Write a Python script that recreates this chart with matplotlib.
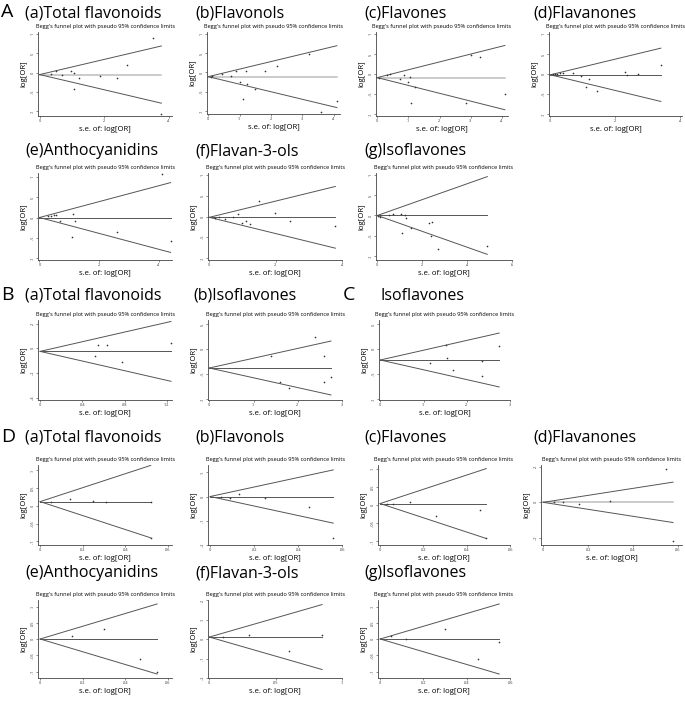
import matplotlib
matplotlib.use("Agg")
import matplotlib.pyplot as plt
import numpy as np

W, H = 685, 702

# -----------------------
# Data
# -----------------------

# A: (a) Total flavonoids
a_tot_se = [.035, .05, .068, .098, .105, .122, .105, .188, .241, .272, .352, .377]
a_tot_lor = [-.03, .03, -.07, .03, 0.0, -.14, -.43, -.08, -.14, .20, .90, -1.07]
a_tot_theta = -0.05

# A: (b) Flavonols
a_fol_se = [.008, .012, .043, .072, .09, .12, .18, .22, .32, .10, .124, .15, .11, .36, .41]
a_fol_lor = [-.11, -.10, -.04, -.09, .03, .04, .03, .17, .48, -.24, -.30, -.43, -.68, -1.02, -.74]
a_fol_theta = -0.11

# A: (c) Flavones
a_fon_se = [.005, .03, .04, .072, .087, .10, .105, .12, .107, .30, .33, .285, .41]
a_fon_lor = [-.09, -.03, -.01, -.13, -.03, -.21, -.07, -.32, -.73, .47, .43, -.73, -.51]
a_fon_theta = -0.09

# A: (d) Flavanones
a_fan_se = [.008, .015, .022, .03, .04, .07, .094, .118, .11, .145, .23, .235, .27, .34]
a_fan_lor = [0, .01, .01, .02, .02, .03, -.06, -.12, -.33, -.42, .04, -.03, -.01, .23]
a_fan_theta = -0.02

# A: (e) Anthocyanidins
a_ant_se = [.03, .04, .048, .055, .113, .07, .12, .108, .26, .41, .44]
a_ant_lor = [.03, .04, .06, .07, .09, -.09, -.09, -.47, -.36, 1.08, -.57]
a_ant_theta = 0.0

# A: (f) Flavan-3-ols
a_f3o_se = [.017, .03, .046, .07, .085, .10, .11, .124, .15, .197, .244, .38]
a_f3o_lor = [-.03, -.02, -.06, -.02, .07, -.15, -.10, -.17, .37, .09, -.10, -.22]
a_f3o_theta = -0.02

# A: (g) Isoflavones
a_iso_se = [.005, .01, .05, .07, .105, .124, .127, .11, .15, .23, .245, .237, .27, .49]
a_iso_lor = [-.02, -.03, 0, .03, .04, 0, -.07, -.43, -.32, -.19, -.17, -.5, -.82, -.75]
a_iso_theta = 0.0

# B: (a) Total flavonoids
b_tot_se = [.052, .055, .063, .078, .124]
b_tot_lor = [-.066, .03, .026, -.11, .04]
b_tot_theta = -0.025

# B: (b) Isoflavones
b_iso_se = [.14, .24, .26, .16, .26, .275, .18]
b_iso_lor = [-.13, .24, -.13, -.65, -.65, -.55, -.78]
b_iso_theta = -0.38

# C: Isoflavones
c_iso_se = [.151, .155, .116, .168, .236, .235, .275]
c_iso_lor = [.075, -.17, -.27, -.42, -.23, -.53, .06]
c_iso_theta = -0.22

# D: (a) Total flavonoids
d_tot_se = [.005, .014, .025, .031, .052, .052]
d_tot_lor = [.012, .019, .013, .012, .011, -.09]
d_tot_theta = 0.012

# D: (b) Flavonols
d_fol_se = [.005, .009, .013, .025, .045, .056]
d_fol_lor = [0, -.008, .012, -.008, -.044, -.173]
d_fol_theta = 0.0

# D: (c) Flavones
d_fon_se = [.003, .006, .014, .026, .046, .049]
d_fon_lor = [.004, .004, .007, -.031, -.015, -.09]
d_fon_theta = 0.004

# D: (d) Flavanones
d_fan_se = [.005, .009, .016, .030, .055, .058]
d_fan_lor = [0, .004, -.01, .006, .186, -.22]
d_fan_theta = 0.0

# D: (e) Anthocyanidins
d_ant_se = [.015, .03, .047, .055]
d_ant_lor = [.01, .03, -.06, -.1]
d_ant_theta = 0.0

# D: (f) Flavan-3-ols
d_f3o_se = [.01, .03, .06, .085]
d_f3o_lor = [.01, .02, -.06, .02]
d_f3o_theta = 0.01

# D: (g) Isoflavones
d_iso_se = [.005, .012, .03, .045, .055]
d_iso_lor = [.01, 0, .03, -.06, -.01]
d_iso_theta = 0.0


# -----------------------
# Layout (pixels: left, top, right, bottom)
# -----------------------

def fmt(v):
    s = f"{v:g}"
    s = s.replace("0.", ".")
    return s


GREY = "#bdbdbd"
DARK = "#555555"

panels = [
    # se, lor, theta, box, xticks, yticks, xlim, ylim, title, title xy, pooled colour
    (a_tot_se, a_tot_lor, a_tot_theta, (38, 32, 172, 116), [0, .2, .4], [-1, -.5, 0, .5, 1],
     (-.005, .41), (-1.12, 1.05), "(a)Total flavonoids", (25, 13), GREY),
    (a_fol_se, a_fol_lor, a_fol_theta, (207, 32, 340, 114), [0, .1, .2, .3, .4], [-1, -.5, 0, .5, 1],
     (-.004, .42), (-1.08, 1.05), "(b)Flavonols", (195, 13), GREY),
    (a_fon_se, a_fon_lor, a_fon_theta, (376, 32, 508, 116), [0, .1, .2, .3, .4], [-1, -.5, 0, .5, 1],
     (-.004, .42), (-1.05, 1.05), "(c)Flavones", (364, 13), GREY),
    (a_fan_se, a_fan_lor, a_fan_theta, (549, 32, 682, 116), [0, .2, .4], [-1, -.5, 0, .5, 1],
     (-.004, .405), (-1.05, 1.05), "(d)Flavanones", (533, 13), DARK),
    (a_ant_se, a_ant_lor, a_ant_theta, (38, 173, 172, 260), [0, .2, .4], [-1, -.5, 0, .5, 1],
     (-.005, .445), (-1.05, 1.1), "(e)Anthocyanidins", (25, 151), DARK),
    (a_f3o_se, a_f3o_lor, a_f3o_theta, (208, 173, 342, 260), [0, .2, .4], [-1, -.5, 0, .5, 1],
     (-.004, .40), (-1.05, 1.05), "(f)Flavan-3-ols", (195, 151), DARK),
    (a_iso_se, a_iso_lor, a_iso_theta, (376, 173, 512, 260), [0, .2, .4, .6], [-1, -.5, 0, .5, 1],
     (-.006, .6), (-1.1, 1.05), "(g)Isoflavones", (364, 151), DARK),
    (b_tot_se, b_tot_lor, b_tot_theta, (38, 320, 172, 400), [0, .04, .08, .12], [-.4, -.2, 0, .2],
     (-.002, .125), (-.42, .23), "(a)Total flavonoids", (25, 296), DARK),
    (b_iso_se, b_iso_lor, b_iso_theta, (208, 320, 342, 400), [0, .1, .2, .3], [-1, -.5, 0, .5],
     (-.003, .30), (-1.02, .58), "(b)Isoflavones", (193, 296), DARK),
    (c_iso_se, c_iso_lor, c_iso_theta, (379, 320, 510, 400), [0, .1, .2, .3], [-1, -.5, 0, .5],
     (-.003, .29), (-1.02, .58), "Isoflavones", (380, 296), DARK),
    (d_tot_se, d_tot_lor, d_tot_theta, (38, 465, 172, 545), [0, .02, .04, .06], [-.1, -.05, 0, .05, .1],
     (-.001, .062), (-.11, .115), "(a)Total flavonoids", (25, 438), DARK),
    (d_fol_se, d_fol_lor, d_fol_theta, (208, 465, 342, 545), [0, .02, .04, .06], [-.2, -.1, 0, .1],
     (-.001, .06), (-.2, .13), "(b)Flavonols", (195, 438), DARK),
    (d_fon_se, d_fon_lor, d_fon_theta, (378, 465, 510, 545), [0, .02, .04, .06], [-.1, -.05, 0, .05, .1],
     (-.001, .058), (-.11, .11), "(c)Flavones", (364, 438), DARK),
    (d_fan_se, d_fan_lor, d_fan_theta, (541, 465, 682, 545), [0, .02, .04, .06], [-.2, 0, .2],
     (-.001, .062), (-.24, .21), "(d)Flavanones", (533, 438), GREY),
    (d_ant_se, d_ant_lor, d_ant_theta, (38, 600, 172, 678), [0, .02, .04, .06], [-.1, -.05, 0, .05, .1],
     (-.001, .062), (-.12, .12), "(e)Anthocyanidins", (25, 573), DARK),
    (d_f3o_se, d_f3o_lor, d_f3o_theta, (208, 600, 342, 678), [0, .05, .1], [-.2, -.1, 0, .1, .2],
     (-.001, .1), (-.2, .2), "(f)Flavan-3-ols", (195, 573), DARK),
    (d_iso_se, d_iso_lor, d_iso_theta, (378, 600, 510, 678), [0, .02, .04, .06], [-.1, -.05, 0, .05, .1],
     (-.001, .06), (-.12, .12), "(g)Isoflavones", (364, 573), DARK),
]

section_letters = [("A", 1, 12), ("B", 1, 295), ("C", 343, 295), ("D", 1, 437)]

plt.rcParams["font.family"] = ["Open Sans", "DejaVu Sans"]

fig = plt.figure(figsize=(W / 100, H / 100), dpi=100)

for letter, lx, ly in section_letters:
    fig.text(lx / W, 1 - ly / H, letter, fontsize=14, va="center", ha="left")

for (se, lor, theta, box, xt, yt, xl, yl, title, txy, pcol) in panels:
    l, t, r, b = box
    ax = fig.add_axes([l / W, 1 - b / H, (r - l) / W, (b - t) / H])

    se = np.asarray(se)
    lor = np.asarray(lor)
    se_max = se.max()
    xs = np.array([0, se_max])

    ax.plot(xs, [theta, theta], color=pcol, lw=1.1 if pcol == GREY else 0.7, zorder=1)
    ax.plot(xs, theta + 1.96 * xs, color=DARK, lw=0.7, zorder=2)
    ax.plot(xs, theta - 1.96 * xs, color=DARK, lw=0.7, zorder=2)
    ax.plot(se, lor, "o", ms=1.2, color="#333333", mew=0, zorder=3)

    ax.set_xlim(*xl)
    ax.set_ylim(*yl)
    ax.set_xticks(xt)
    ax.set_xticklabels([fmt(v) for v in xt])
    ax.set_yticks(yt)
    ax.set_yticklabels([fmt(v) for v in yt], rotation=90, va="center")
    ax.tick_params(labelsize=2.8, length=1.5, width=0.4, pad=1, colors="#333333")

    for side in ["top", "right"]:
        ax.spines[side].set_visible(False)
    for side in ["left", "bottom"]:
        ax.spines[side].set_linewidth(0.6)
        ax.spines[side].set_color("#444444")

    ax.set_xlabel("s.e. of: log[OR]", fontsize=5.6, labelpad=2)
    ax.set_ylabel("log[OR]", fontsize=5.6, labelpad=2)
    ax.set_title("Begg's funnel plot with pseudo 95% confidence limits", fontsize=4.1, pad=3)

    fig.text(txy[0] / W, 1 - txy[1] / H, title, fontsize=11.5, va="center", ha="left")

fig.savefig("out.png", dpi=100)
